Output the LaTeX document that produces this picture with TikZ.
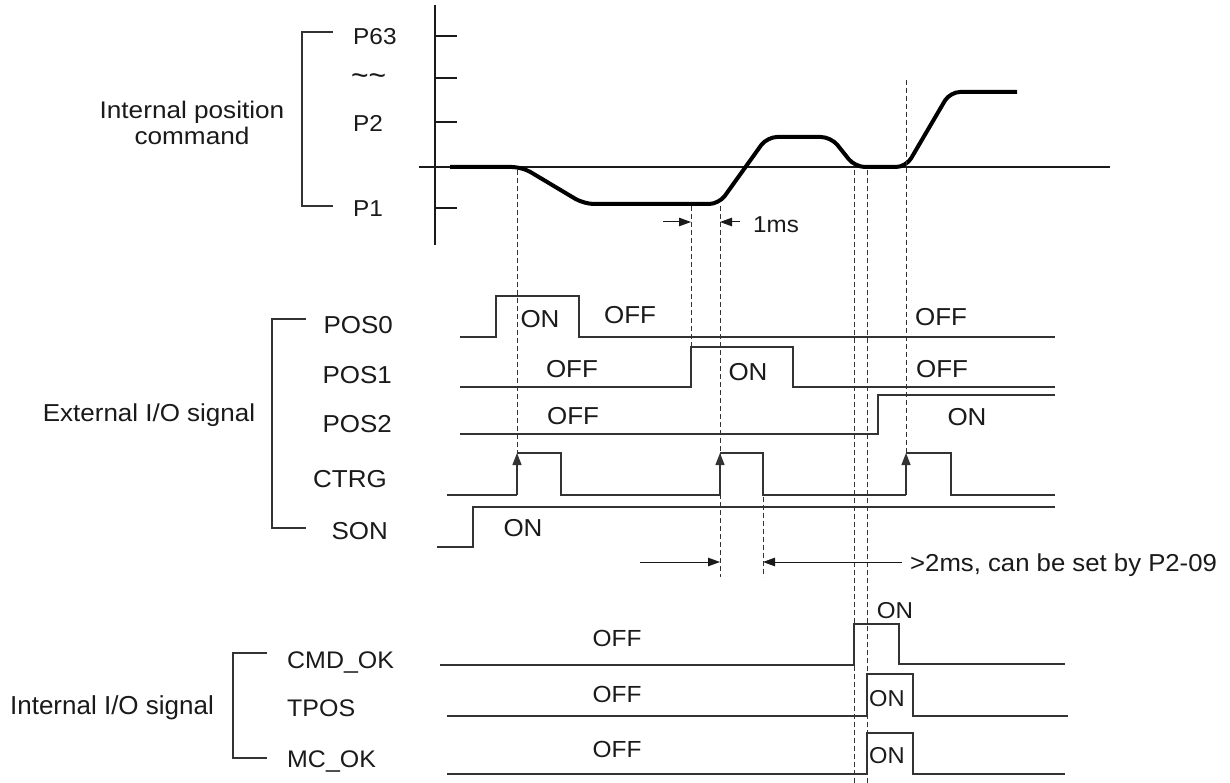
\documentclass[tikz,border=0pt]{standalone}
\usepackage{fontspec}
\usepackage{graphicx}
\setmainfont{Liberation Sans}
\usetikzlibrary{arrows.meta}
\definecolor{ink}{HTML}{1A1A1A}
\definecolor{wire}{HTML}{333333}
\newcommand{\Tx}[3]{\scalebox{#2}[1]{\fontsize{#1}{#1}\selectfont #3}}
\newcommand{\Ta}[1]{\Tx{23}{1.06}{#1}}
\newcommand{\Tb}[1]{\Tx{24.5}{1.06}{#1}}
\newcommand{\Tc}[1]{\Tx{24}{1.04}{#1}}
\newcommand{\Td}[1]{\Tx{23.3}{1.05}{#1}}
\begin{document}
\begin{tikzpicture}[x=1pt,y=-1pt,
  lbl/.style={inner sep=0pt, text depth=0pt, text=ink},
  sig/.style={draw=wire, line width=1.3pt, line join=miter},
  vdash/.style={draw=wire, line width=0.9pt, dash pattern=on 5pt off 3pt},
  brk/.style={draw=wire, line width=1.3pt},
  axis/.style={draw=ink, line width=1.8pt},
  poscurve/.style={draw=black, line width=4pt, line join=round, rounded corners=10pt},
  tipr/.style={draw=ink, line width=1pt, -{Triangle[length=12pt,width=8.5pt]}},
  tipu/.style={draw=wire, line width=1.3pt, -{Triangle[length=12pt,width=9pt]}}]
\useasboundingbox (0,0) rectangle (1230,783);
\fill[white] (0,0) rectangle (1230,783);

% ---------- top: internal position command ----------
\draw[axis] (435,5) -- (435,245);
\draw[axis] (419,167) -- (1110,167);
\foreach \yy in {36,78,122,208} \draw[axis] (435,\yy) -- (457,\yy);
\draw[brk] (333,32) -- (302,32) -- (302,206) -- (333,206);
\node[lbl] (ipc1) at (192,110) {\Tx{24}{1.09}{Internal position}};
\node[lbl] (ipc2) at (192,136) {\Tx{24}{1.09}{command}};
\node[lbl, anchor=west] (p63) at (353,36) {\Ta{P63}};
\node[lbl, anchor=west] (pdots) at (351,80) {\Tx{30}{1.0}{\textasciitilde\textasciitilde}};
\node[lbl, anchor=west] (p2) at (353,123) {\Ta{P2}};
\node[lbl, anchor=west] (p1) at (353,209) {\Ta{P1}};
\draw[poscurve] (450,167) -- (522,167) -- (584,204) -- (719,204) -- (767,137)
  -- (831,137) -- (855,167) -- (906,167) -- (950,92) -- (1017,92);

% ---------- dashed guide lines ----------
\draw[vdash] (517,170) -- (517,453);
\draw[vdash] (691,206) -- (691,347);
\draw[vdash] (720,206) -- (720,577);
\draw[vdash] (763,497) -- (763,577);
\draw[vdash] (854,170) -- (854,783);
\draw[vdash] (867,170) -- (867,783);
\draw[vdash] (906,80) -- (906,453);

% 1ms
\coordinate (ms1a) at (663,222); \coordinate (ms1b) at (691,222);
\coordinate (ms2a) at (740,222); \coordinate (ms2b) at (720,222);
\draw[tipr] (ms1a) -- (ms1b);
\draw[tipr] (ms2a) -- (ms2b);
\node[lbl, anchor=west] (onems) at (753,225) {\Tx{23}{1.05}{1ms}};

% ---------- external I/O ----------
\draw[brk] (306,319) -- (272,319) -- (272,528) -- (306,528);
\node[lbl] (ext) at (149,413) {\Tb{External I/O signal}};
\node[lbl, anchor=east] (pos0) at (393,325) {\Tb{POS0}};
\node[lbl, anchor=east] (pos1) at (392,375) {\Tb{POS1}};
\node[lbl, anchor=east] (pos2) at (392,424) {\Tb{POS2}};
\node[lbl, anchor=east] (ctrg) at (387,479) {\Tb{CTRG}};
\node[lbl, anchor=east] (son) at (388,531) {\Tb{SON}};

\draw[sig] (460,337) -- (496,337) -- (496,296) -- (579,296) -- (579,337) -- (1055,337);
\draw[sig] (460,387) -- (691,387) -- (691,347) -- (793,347) -- (793,387) -- (1055,387);
\draw[sig] (460,434) -- (878,434) -- (878,395) -- (1055,395);
\draw[sig] (447,495) -- (517,495);
\draw[tipu] (517,495) -- (517,453);
\draw[sig] (517,453) -- (561,453) -- (561,495) -- (720,495);
\draw[tipu] (720,495) -- (720,453);
\draw[sig] (720,453) -- (763,453) -- (763,495) -- (906,495);
\draw[tipu] (906,495) -- (906,453);
\draw[sig] (906,453) -- (951,453) -- (951,495) -- (1055,495);
\draw[sig] (437,547) -- (473,547) -- (473,507) -- (1055,507);

\node[lbl] (p0on) at (540,319) {\Tb{ON}};
\node[lbl] (p0off) at (630,315) {\Tb{OFF}};
\node[lbl] (p0off2) at (941,317) {\Tb{OFF}};
\node[lbl] (p1off) at (572,369) {\Tb{OFF}};
\node[lbl] (p1on) at (748,372) {\Tb{ON}};
\node[lbl] (p1off2) at (942,369) {\Tb{OFF}};
\node[lbl] (p2off) at (573,416) {\Tb{OFF}};
\node[lbl] (p2on) at (967,417) {\Tb{ON}};
\node[lbl] (sonon) at (523,528) {\Tb{ON}};

% >2ms
\coordinate (d2a) at (640,562); \coordinate (d2b) at (720,562);
\coordinate (d3a) at (902,562); \coordinate (d3b) at (763,562);
\draw[tipr] (d2a) -- (d2b);
\draw[tipr] (d3a) -- (d3b);
\node[lbl, anchor=west] (gt2) at (910,563) {\Tx{24.5}{1.05}{>2ms, can be set by P2-09}};

% ---------- internal I/O ----------
\draw[brk] (267,653) -- (233,653) -- (233,758) -- (267,758);
\node[lbl] (int) at (112,705) {\Tx{26}{1.0}{Internal I/O signal}};
\node[lbl, anchor=west] (cmdok) at (287,660) {\Tc{CMD\_OK}};
\node[lbl, anchor=west] (tpos) at (287,708) {\Tc{TPOS}};
\node[lbl, anchor=west] (mcok) at (287,759) {\Tc{MC\_OK}};

\draw[sig] (440,665) -- (854,665) -- (854,624) -- (899,624) -- (899,664) -- (1065,664);
\draw[sig] (447,716) -- (867,716) -- (867,674) -- (913,674) -- (913,716) -- (1068,716);
\draw[sig] (447,774) -- (867,774) -- (867,733) -- (913,733) -- (913,774) -- (1065,774);

\node[lbl] (c1off) at (617,638) {\Td{OFF}};
\node[lbl] (c2off) at (617,694) {\Td{OFF}};
\node[lbl] (c3off) at (617,749) {\Td{OFF}};
\node[lbl] (c1on) at (895,610) {\Tx{23}{1.05}{ON}};
\node[lbl] (c2on) at (887,698) {\Tx{23}{1.03}{ON}};
\node[lbl] (c3on) at (887,755) {\Tx{23}{1.03}{ON}};
\end{tikzpicture}
\end{document}
